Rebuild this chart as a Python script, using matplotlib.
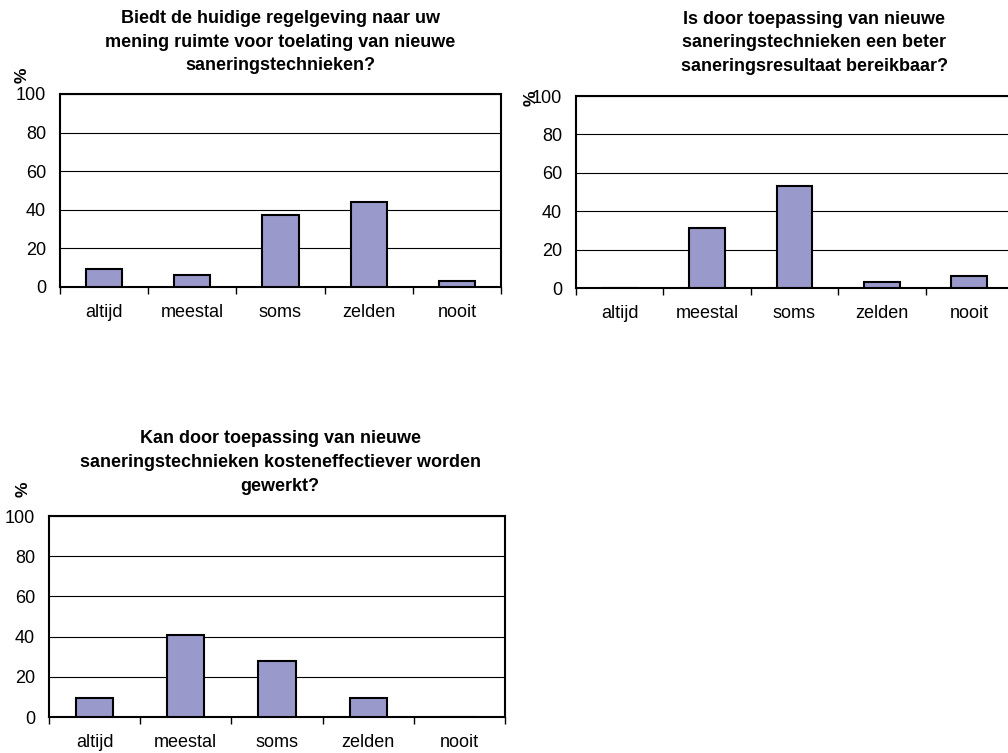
"""
Three survey bar charts (percent of respondents per answer category).
"""

import matplotlib

matplotlib.use("Agg")
import matplotlib.pyplot as plt
import numpy as np

# ---------------------------------------------------------------------------
# Data
# ---------------------------------------------------------------------------

CATEGORIES = ["altijd", "meestal", "soms", "zelden", "nooit"]
Y_TICKS = [0, 20, 40, 60, 80, 100]

TITLE_1 = ("Biedt de huidige regelgeving naar uw\n"
           "mening ruimte voor toelating van nieuwe\n"
           "saneringstechnieken?")
VALUES_1 = [9.4, 6.3, 37.5, 43.8, 3.1]

TITLE_2 = ("Is door toepassing van nieuwe\n"
           "saneringstechnieken een beter\n"
           "saneringsresultaat bereikbaar?")
VALUES_2 = [0.0, 31.3, 53.1, 3.1, 6.3]

TITLE_3 = ("Kan door toepassing van nieuwe\n"
           "saneringstechnieken kosteneffectiever worden\n"
           "gewerkt?")
VALUES_3 = [9.4, 40.6, 28.1, 9.4, 0.0]

BAR_COLOR = "#9999cc"

plt.rcParams["font.family"] = ["Liberation Sans", "DejaVu Sans"]

fig = plt.figure(figsize=(10.08, 7.53), dpi=100)

# (axes rect, title x/y, "%" label x/y) in figure fractions
PANELS = [
    (VALUES_1, TITLE_1, [0.0595, 0.6189, 0.4375, 0.2563], (0.278, 0.944), (0.022, 0.900)),
    (VALUES_2, TITLE_2, [0.5714, 0.6175, 0.4335, 0.2550], (0.808, 0.943), (0.527, 0.870)),
    (VALUES_3, TITLE_3, [0.0486, 0.0478, 0.4524, 0.2669], (0.278, 0.386), (0.023, 0.350)),
]


def draw_panel(values, title, rect, title_xy, pct_xy):
    ax = fig.add_axes(rect)
    x = np.arange(len(CATEGORIES))
    ax.bar(x, values, width=0.41, color=BAR_COLOR, edgecolor="black",
           linewidth=1.5, zorder=3)

    ax.set_xlim(-0.5, len(CATEGORIES) - 0.5)
    ax.set_ylim(0, 100)
    ax.set_yticks(Y_TICKS)
    ax.set_xticks(x)
    ax.set_xticklabels(CATEGORIES)
    ax.set_xticks(np.arange(len(CATEGORIES) + 1) - 0.5, minor=True)

    ax.tick_params(axis="x", which="major", length=0, pad=12, labelsize=13)
    ax.tick_params(axis="x", which="minor", length=5, width=1, direction="out")
    ax.tick_params(axis="y", length=0, pad=10, labelsize=13)

    ax.yaxis.grid(True, color="black", linewidth=0.8)
    ax.set_axisbelow(True)
    for spine in ax.spines.values():
        spine.set_linewidth(1.5)

    fig.text(title_xy[0], title_xy[1], title, ha="center", va="center",
             fontsize=13, fontweight="bold", linespacing=1.52)
    fig.text(pct_xy[0], pct_xy[1], "%", ha="center", va="center",
             rotation=90, fontsize=12.5, fontweight="bold")
    return ax


for values, title, rect, title_xy, pct_xy in PANELS:
    draw_panel(values, title, rect, title_xy, pct_xy)

fig.savefig("out.png", dpi=100)
